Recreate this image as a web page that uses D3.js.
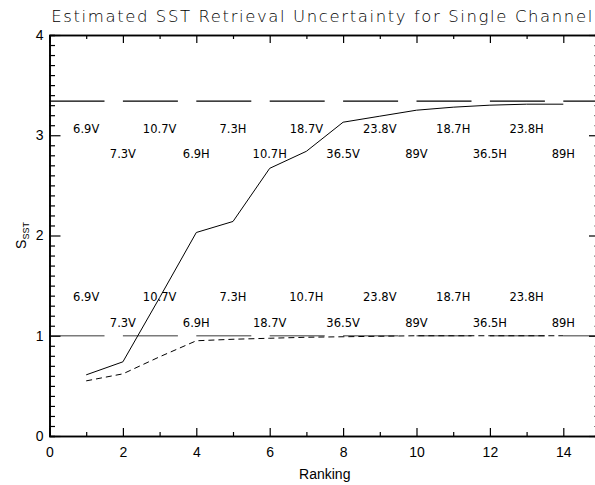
<!DOCTYPE html>
<html><head><meta charset="utf-8">
<script src="https://cdn.jsdelivr.net/npm/d3@7"></script>
<style>
html,body{margin:0;padding:0;background:#fff;}
svg{display:block;}
text{fill:#000;}
</style></head>
<body>
<svg id="chart" width="595" height="485"></svg>
<script>
// ---- data ----
const titleText = "Estimated SST Retrieval Uncertainty for Single Channel";
const xTitle = "Ranking";
const ranking = [1,2,3,4,5,6,7,8,9,10,11,12,13,14];
const solidValues  = [0.61,0.74,1.38,2.03,2.14,2.67,2.84,3.13,3.19,3.25,3.28,3.30,3.31,3.31];
const dashedValues = [0.55,0.62,0.79,0.95,0.965,0.975,0.985,0.99,0.995,1.0,1.0,1.0,1.0,1.0];
const upperRef = 3.34;
const lowerRef = 1.0;
const upperOrder = ["6.9V","7.3V","10.7V","6.9H","7.3H","10.7H","18.7V","36.5V","23.8V","89V","18.7H","36.5H","23.8H","89H"];
const lowerOrder = ["6.9V","7.3V","10.7V","6.9H","7.3H","18.7V","10.7H","36.5V","23.8V","89V","18.7H","36.5H","23.8H","89H"];
const xTicks = [0,2,4,6,8,10,12,14];
const yTicks = [0,1,2,3,4];

// ---- layout ----
const svg = d3.select("#chart");
const x = d3.scaleLinear().domain([0,15]).range([49.5,600]);
const y = d3.scaleLinear().domain([0,4]).range([436,35]);
const X0 = x.range()[0], X1 = x.range()[1], Y0 = y.range()[0], Y1 = y.range()[1];

// reference lines
svg.append("line").attr("x1",X0).attr("x2",X1).attr("y1",y(upperRef)).attr("y2",y(upperRef))
  .attr("stroke","#000").attr("stroke-width",1.2).attr("stroke-dasharray","55,18.4");
svg.append("line").attr("x1",X0).attr("x2",X1).attr("y1",y(lowerRef)).attr("y2",y(lowerRef))
  .attr("stroke","#7a7a7a").attr("stroke-width",1.6).attr("stroke-dasharray","55,18.4");

// channel labels
const lblFont = "'DejaVu Sans', sans-serif";
function labels(order, ref, off1, off2){
  svg.append("g").selectAll("text").data(order).join("text")
    .attr("x",(d,i)=>x(ranking[i]))
    .attr("y",(d,i)=>y(ref) + (i%2===0 ? off1 : off2))
    .attr("text-anchor","middle")
    .attr("font-family",lblFont).attr("font-size",11.5).attr("fill","#111")
    .text(d=>d);
}
labels(upperOrder, upperRef, 32, 57);
labels(lowerOrder, lowerRef, -34.5, -8.5);

// curves
const line = d3.line().x((d,i)=>x(ranking[i])).y(d=>y(d));
svg.append("path").datum(dashedValues).attr("d",line).attr("fill","none")
  .attr("stroke","#000").attr("stroke-width",1).attr("stroke-dasharray","6,4");
svg.append("path").datum(solidValues).attr("d",line).attr("fill","none")
  .attr("stroke","#000").attr("stroke-width",1);

// axes
const axFont = "'Liberation Sans', Arial, sans-serif";
const gB = svg.append("g").attr("transform",`translate(0,${Y0})`)
  .call(d3.axisBottom(x).tickValues(xTicks).tickSizeInner(-8).tickSizeOuter(0).tickPadding(14).tickFormat(d3.format("d")));
const gBm = svg.append("g").attr("transform",`translate(0,${Y0})`)
  .call(d3.axisBottom(x).tickValues(d3.range(1,15,2)).tickSize(-4).tickFormat(""));
const gT = svg.append("g").attr("transform",`translate(0,${Y1})`)
  .call(d3.axisTop(x).tickValues(xTicks).tickSizeInner(-8).tickSizeOuter(0).tickFormat(""));
const gTm = svg.append("g").attr("transform",`translate(0,${Y1})`)
  .call(d3.axisTop(x).tickValues(d3.range(1,15,2)).tickSize(-4).tickFormat(""));
const gL = svg.append("g").attr("transform",`translate(${X0},0)`)
  .call(d3.axisLeft(y).tickValues(yTicks).tickSizeInner(-11).tickSizeOuter(0).tickPadding(6).tickFormat(d3.format("d")));
const minorY = d3.range(0,41).map(d=>d/10).filter(d=>Math.abs(d-Math.round(d))>1e-6);
const gLm = svg.append("g").attr("transform",`translate(${X0},0)`)
  .call(d3.axisLeft(y).tickValues(minorY).tickSize(-5.5).tickFormat(""));
const gR = svg.append("g").attr("transform",`translate(${X1},0)`)
  .call(d3.axisRight(y).tickValues(yTicks).tickSizeInner(-11).tickSizeOuter(0).tickFormat(""));
const gRm = svg.append("g").attr("transform",`translate(${X1},0)`)
  .call(d3.axisRight(y).tickValues(minorY).tickSize(-5.5).tickFormat(""));

svg.selectAll(".domain").attr("stroke","#000").attr("stroke-width",1.6);
svg.selectAll(".tick line").attr("stroke","#000").attr("stroke-width",1.2);
svg.selectAll(".tick text").attr("font-family",axFont).attr("font-size",14).attr("fill","#000");
gB.selectAll(".tick text").attr("dy","0.71em").attr("y",11);
gL.selectAll(".tick text").attr("x",-6);

// titles
svg.append("text").attr("x",(X0+X1)/2-3).attr("y",22).attr("text-anchor","middle")
  .attr("font-family","'DejaVu Sans', sans-serif").attr("font-size",16.5).attr("font-weight",300)
  .attr("textLength",541).attr("lengthAdjust","spacing").text(titleText);
svg.append("text").attr("x",x(7.5)).attr("y",479).attr("text-anchor","middle")
  .attr("font-family",axFont).attr("font-size",14).text(xTitle);
const yt = svg.append("text").attr("transform",`translate(26,${(Y0+Y1)/2}) rotate(-90)`)
  .attr("text-anchor","middle").attr("font-family",axFont).attr("font-size",14);
yt.append("tspan").text("S");
yt.append("tspan").attr("font-size",9).attr("dy",3).text("SST");
</script>
</body></html>
